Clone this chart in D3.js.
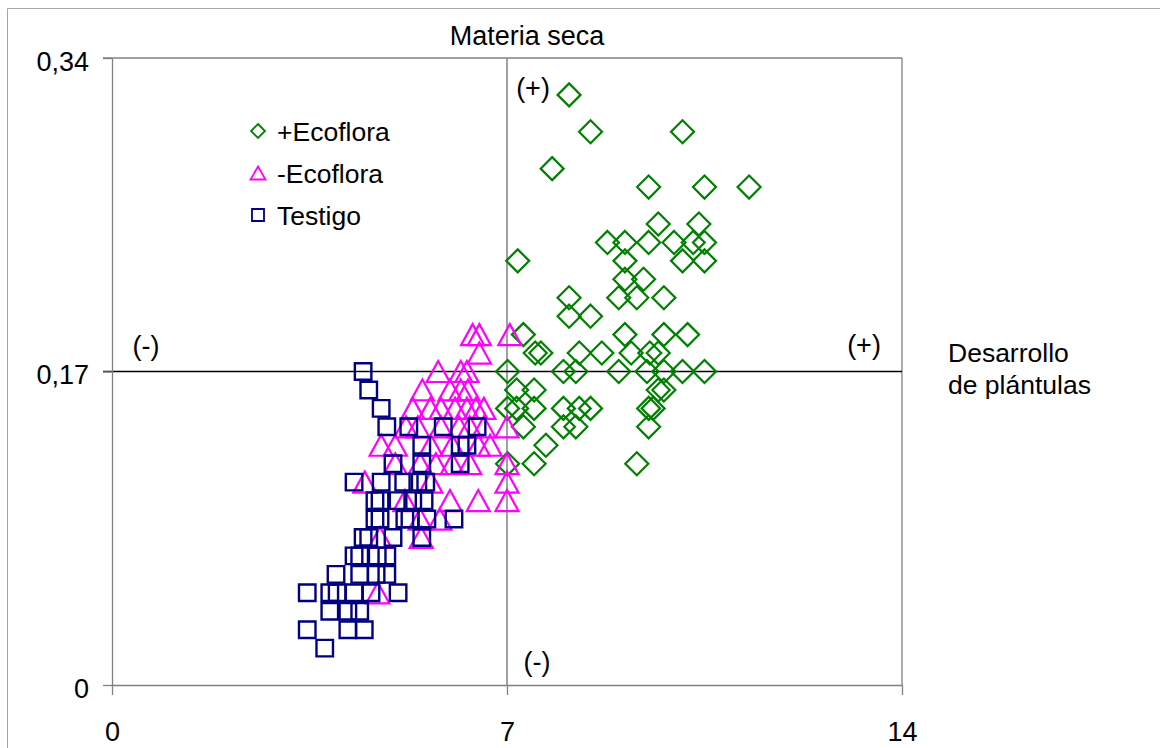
<!DOCTYPE html>
<html>
<head>
    <title>Materia seca</title>
    <script src="https://d3js.org/d3.v7.min.js"></script>
    <style>
        body {
            margin: 0;
            background-color: #ffffff;
        }
        svg text {
            font-family: "Liberation Sans", Arial, sans-serif;
            fill: #000;
        }
    </style>
</head>
<body>
    <div class="container"></div>
    <script>
        // tick labels
        const xTicks = [0, 7, 14];
        const yTicks = [0, 0.17, 0.34];

        // +Ecoflora (desarrollo de plántulas, materia seca)
        const ecofloraPlus = [
            [8.10, 0.32],
            [8.48, 0.30], [10.11, 0.30],
            [7.80, 0.28],
            [9.51, 0.27], [10.50, 0.27], [11.29, 0.27],
            [9.68, 0.25], [10.40, 0.25],
            [8.78, 0.24], [9.09, 0.24], [9.51, 0.24], [9.96, 0.24], [10.30, 0.24], [10.50, 0.24],
            [7.19, 0.23], [9.09, 0.23], [10.11, 0.23], [10.50, 0.23],
            [9.09, 0.22], [9.42, 0.22],
            [8.10, 0.21], [8.98, 0.21], [9.30, 0.21], [9.78, 0.21],
            [8.10, 0.20], [8.48, 0.20],
            [7.29, 0.19], [9.09, 0.19], [9.78, 0.19], [10.20, 0.19],
            [7.50, 0.18], [7.60, 0.18], [8.28, 0.18], [8.68, 0.18], [9.20, 0.18], [9.53, 0.18], [9.68, 0.18],
            [7.01, 0.17], [8.00, 0.17], [8.22, 0.17], [8.98, 0.17], [9.48, 0.17], [9.78, 0.17], [10.11, 0.17], [10.50, 0.17],
            [7.17, 0.16], [7.48, 0.16], [9.68, 0.16], [9.78, 0.16],
            [7.01, 0.15], [7.17, 0.15], [7.48, 0.15], [8.00, 0.15], [8.28, 0.15], [8.48, 0.15], [9.51, 0.15], [9.59, 0.15],
            [7.29, 0.14], [8.00, 0.14], [8.22, 0.14], [9.51, 0.14],
            [7.69, 0.13],
            [7.01, 0.12], [7.48, 0.12], [9.30, 0.12]
        ];

        // -Ecoflora
        const ecofloraMinus = [
            [6.39, 0.19], [6.51, 0.19], [7.05, 0.19],
            [6.51, 0.18],
            [5.78, 0.17], [6.18, 0.17], [6.29, 0.17],
            [5.50, 0.16], [5.99, 0.16], [6.18, 0.16], [6.31, 0.16],
            [5.33, 0.15], [5.64, 0.15], [5.83, 0.15], [6.08, 0.15], [6.29, 0.15], [6.45, 0.15], [6.59, 0.15],
            [5.21, 0.14], [5.42, 0.14], [5.83, 0.14], [6.15, 0.14], [6.34, 0.14], [6.59, 0.14], [7.00, 0.14],
            [4.77, 0.13], [5.02, 0.13], [5.65, 0.13], [6.03, 0.13], [6.49, 0.13], [6.70, 0.13],
            [5.02, 0.12], [5.46, 0.12], [5.74, 0.12], [6.03, 0.12], [6.34, 0.12], [7.00, 0.12],
            [4.48, 0.11], [5.65, 0.11], [7.00, 0.11],
            [5.19, 0.10], [5.99, 0.10], [6.49, 0.10], [7.00, 0.10],
            [5.46, 0.09], [5.81, 0.09],
            [4.75, 0.08], [5.48, 0.08],
            [4.71, 0.05]
        ];

        // Testigo
        const testigo = [
            [4.45, 0.17], [4.55, 0.16], [4.77, 0.15],
            [4.87, 0.14], [5.26, 0.14], [5.87, 0.14], [6.47, 0.14],
            [5.49, 0.13], [6.17, 0.13], [6.29, 0.13],
            [4.98, 0.12], [5.49, 0.12], [6.17, 0.12],
            [4.29, 0.11], [4.77, 0.11], [5.17, 0.11], [5.42, 0.11], [5.56, 0.11],
            [4.66, 0.10], [4.75, 0.10], [5.07, 0.10], [5.33, 0.10], [5.53, 0.10],
            [4.66, 0.09], [4.75, 0.09], [5.19, 0.09], [5.28, 0.09], [5.58, 0.09], [6.06, 0.09],
            [4.45, 0.08], [4.55, 0.08], [4.98, 0.08], [5.49, 0.08],
            [4.29, 0.07], [4.39, 0.07], [4.70, 0.07], [4.87, 0.07],
            [3.97, 0.06], [4.39, 0.06], [4.68, 0.06], [4.87, 0.06],
            [3.46, 0.05], [3.86, 0.05], [3.99, 0.05], [4.29, 0.05], [4.59, 0.05], [5.07, 0.05],
            [3.86, 0.04], [4.18, 0.04], [4.39, 0.04],
            [3.46, 0.03], [4.18, 0.03], [4.47, 0.03],
            [3.77, 0.02]
        ];

        const seriesNames = ['+Ecoflora', '-Ecoflora', 'Testigo'];
        const seriesColors = ['#008000', '#ff00ff', '#000080'];

        const width = 1160;
        const height = 748;
        const margin = { top: 58, right: 258, bottom: 63, left: 112 };

        const x = d3.scaleLinear()
            .domain([0, 14])
            .range([margin.left, width - margin.right]);

        const y = d3.scaleLinear()
            .domain([0, 0.34])
            .range([height - margin.bottom, margin.top]);

        // marker paths, centred on 0,0
        const diamond = r => `M0,${-r}L${r},0L0,${r}L${-r},0Z`;
        const square = s => `M${-s / 2},${-s / 2}h${s}v${s}h${-s}Z`;
        const triangle = (w, h) => `M0,${-h / 2}L${w / 2},${h / 2}L${-w / 2},${h / 2}Z`;

        const svg = d3.select('.container').append('svg')
            .attr('width', width)
            .attr('height', height);

        // outer frame
        svg.append('path')
            .attr('d', `M7.5,${height}V8.5H${width}`)
            .attr('fill', 'none')
            .attr('stroke', '#a6a6a6')
            .attr('stroke-width', 1);

        const x0 = x(0), x14 = x(14);
        const yTop = y(0.34), yBot = y(0);

        // plot frame: top line and right edge
        svg.append('line')
            .attr('x1', x0 - 9).attr('x2', x14)
            .attr('y1', yTop).attr('y2', yTop)
            .attr('stroke', '#808080').attr('stroke-width', 1.3);
        svg.append('line')
            .attr('x1', x14).attr('x2', x14)
            .attr('y1', yTop).attr('y2', yBot)
            .attr('stroke', '#808080').attr('stroke-width', 1.3);

        // quadrant lines
        svg.append('line')
            .attr('x1', x(7)).attr('x2', x(7))
            .attr('y1', yTop).attr('y2', yBot)
            .attr('stroke', '#808080').attr('stroke-width', 1.5);
        svg.append('line')
            .attr('x1', x0 - 9).attr('x2', x14)
            .attr('y1', y(0.17)).attr('y2', y(0.17))
            .attr('stroke', '#000').attr('stroke-width', 1.3);

        // axes
        const xAxis = svg.append('g')
            .attr('transform', `translate(0,${yBot})`)
            .call(d3.axisBottom(x)
                .tickValues(xTicks)
                .tickSize(10)
                .tickSizeOuter(0)
                .tickPadding(27)
                .tickFormat(d3.format('d')));

        const yAxis = svg.append('g')
            .attr('transform', `translate(${x0},0)`)
            .call(d3.axisLeft(y)
                .tickValues(yTicks)
                .tickSize(9)
                .tickSizeOuter(0)
                .tickPadding(14)
                .tickFormat(d => d === 0 ? '0' : d3.format('.2f')(d).replace('.', ',')));

        [xAxis, yAxis].forEach(g => {
            g.select('.domain').attr('stroke', '#808080').attr('stroke-width', 1.3);
            g.selectAll('.tick line').attr('stroke', '#808080').attr('stroke-width', 1.3);
            g.selectAll('.tick text')
                .attr('font-size', 27)
                .attr('font-family', '"Liberation Sans", Arial, sans-serif')
                .attr('fill', '#000');
        });
        yAxis.selectAll('.tick text').attr('dy', '0.45em');

        // series: diamonds, then triangles, then squares on top
        svg.append('g').selectAll('path')
            .data(ecofloraPlus)
            .join('path')
            .attr('d', diamond(11.5))
            .attr('transform', d => `translate(${x(d[0])},${y(d[1])})`)
            .attr('fill', 'none')
            .attr('stroke', seriesColors[0])
            .attr('stroke-width', 2.2);

        svg.append('g').selectAll('path')
            .data(ecofloraMinus)
            .join('path')
            .attr('d', triangle(23, 21))
            .attr('transform', d => `translate(${x(d[0])},${y(d[1])})`)
            .attr('fill', 'none')
            .attr('stroke', seriesColors[1])
            .attr('stroke-width', 2.2);

        svg.append('g').selectAll('path')
            .data(testigo)
            .join('path')
            .attr('d', square(16.5))
            .attr('transform', d => `translate(${x(d[0])},${y(d[1])})`)
            .attr('fill', 'none')
            .attr('stroke', seriesColors[2])
            .attr('stroke-width', 2.4);

        // title and labels
        svg.append('text')
            .attr('x', 527).attr('y', 45)
            .attr('text-anchor', 'middle')
            .attr('font-size', 27)
            .text('Materia seca');

        const quadLabels = [
            { t: '(+)', x: 533, y: 97 },
            { t: '(-)', x: 146, y: 355 },
            { t: '(+)', x: 864, y: 354 },
            { t: '(-)', x: 537, y: 671 }
        ];
        svg.append('g').selectAll('text')
            .data(quadLabels)
            .join('text')
            .attr('x', d => d.x).attr('y', d => d.y)
            .attr('text-anchor', 'middle')
            .attr('font-size', 27)
            .text(d => d.t);

        svg.append('text')
            .attr('x', 948).attr('y', 362)
            .attr('font-size', 26.5)
            .text('Desarrollo');
        svg.append('text')
            .attr('x', 948).attr('y', 394)
            .attr('font-size', 26.5)
            .text('de plántulas');

        // legend
        const legendMarks = [diamond(7), triangle(15, 13), square(12)];
        const legend = svg.append('g').selectAll('g')
            .data(seriesNames)
            .join('g')
            .attr('transform', (d, i) => `translate(258,${131 + i * 42})`);

        legend.append('path')
            .attr('d', (d, i) => legendMarks[i])
            .attr('fill', 'none')
            .attr('stroke', (d, i) => seriesColors[i])
            .attr('stroke-width', 1.8);

        legend.append('text')
            .attr('x', 19).attr('y', 10)
            .attr('font-size', 26.5)
            .text(d => d);
    </script>
</body>
</html>
